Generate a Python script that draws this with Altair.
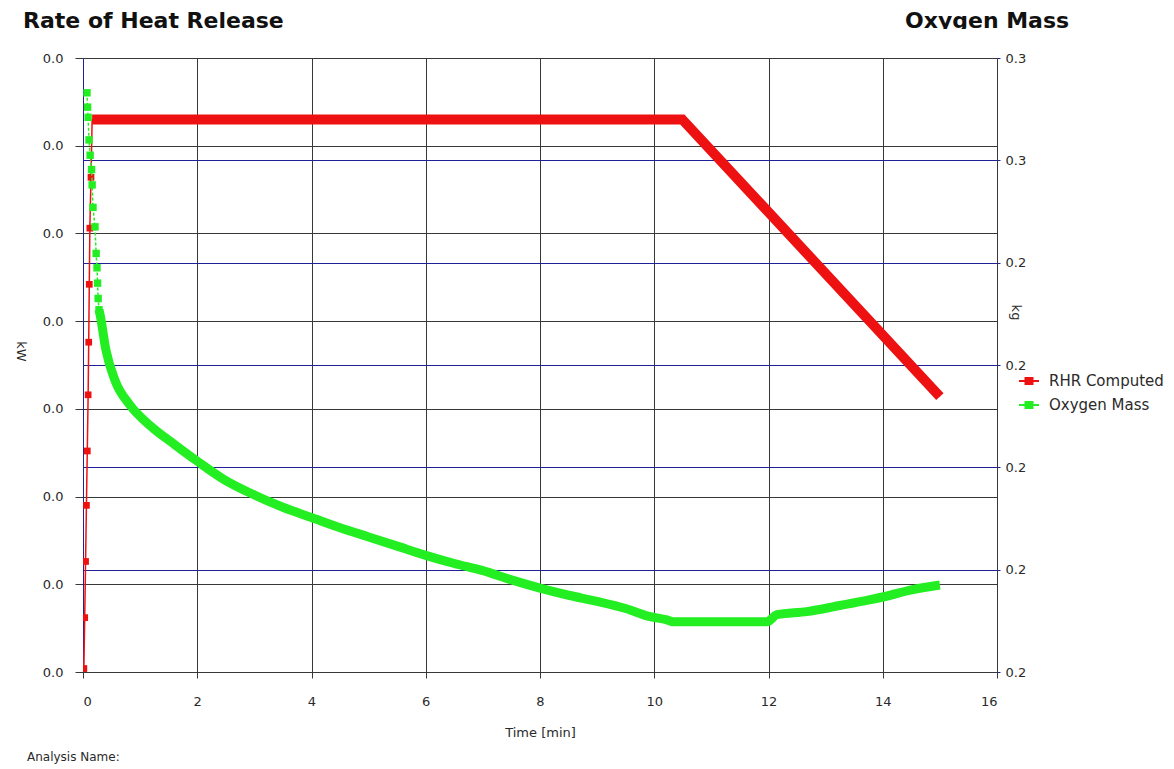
import altair as alt
import pandas as pd

# ---- data -------------------------------------------------------------
# Rate of heat release (left axis, kW)
rhr_time = [0.0, 0.015, 0.03, 0.045, 0.06, 0.075, 0.09, 0.10, 0.11, 0.12,
            0.14, 0.16, 10.49, 15.0]
rhr_kw = [0.0, 0.0002, 0.0031, 0.0063, 0.0095, 0.0126, 0.0158, 0.0188,
          0.0221, 0.0253, 0.0282, 0.0315, 0.0315, 0.0157]

# Oxygen mass (right axis, kg)
o2_time = [0.07, 0.08, 0.09, 0.105, 0.125, 0.15, 0.16, 0.175, 0.21, 0.23,
           0.245, 0.255, 0.265, 0.28, 0.30, 0.40, 0.56, 0.82, 1.17, 1.61,
           2.0, 2.5, 3.0, 3.5, 4.0, 4.5, 5.0, 5.5, 6.0, 6.5, 7.0, 7.5,
           8.0, 8.5, 9.0, 9.5, 9.93, 10.22, 10.33, 11.97, 12.15, 12.67,
           13.25, 13.72, 14.13, 14.48, 15.0]
o2_kg = [0.2566, 0.2552, 0.2542, 0.2520, 0.2505, 0.2491, 0.2476, 0.2454,
         0.2435, 0.2409, 0.2395, 0.2380, 0.2365, 0.2354, 0.2349, 0.2315,
         0.2285, 0.2261, 0.2241, 0.2222, 0.2206, 0.2187, 0.2173, 0.2161,
         0.2151, 0.2141, 0.2132, 0.2123, 0.2114, 0.2106, 0.2099, 0.2090,
         0.2082, 0.2075, 0.2069, 0.2062, 0.2054, 0.2051, 0.2049, 0.2049,
         0.2056, 0.2059, 0.2065, 0.2070, 0.2075, 0.2080, 0.2085]

series_names = ["RHR Computed", "Oxygen Mass"]
x_ticks = list(range(0, 17, 2))
kw_ticks = [0.0, 0.005, 0.010, 0.015, 0.020, 0.025, 0.030, 0.035]
kg_ticks = [0.20, 0.21, 0.22, 0.23, 0.24, 0.25, 0.26]

RED = "#ee1111"
GREEN = "#22ee22"
BLUE_GRID = "#20209a"
DARK_GRID = "#383838"
TEXT = "#2a2a2a"
FONT = "DejaVu Sans"

rhr = pd.DataFrame({"t": rhr_time, "v": rhr_kw, "s": series_names[0]})
o2 = pd.DataFrame({"t": o2_time, "v": o2_kg, "s": series_names[1]})

# ---- shared encodings -------------------------------------------------
x_enc = alt.X(
    "t:Q",
    scale=alt.Scale(domain=[0, 16], nice=False, zero=False),
    axis=alt.Axis(
        values=x_ticks, format="d", title="Time [min]",
        grid=True,
        gridColor={"condition": {"test": "datum.value === 0", "value": BLUE_GRID},
                   "value": DARK_GRID},
        domainColor=DARK_GRID, tickColor=DARK_GRID, tickSize=6,
        labelPadding=17, labelFontSize=13, labelColor=TEXT,
        titleFontSize=13, titleFontWeight="normal", titleColor=TEXT,
        titleY=60, titleBaseline="middle",
    ),
)

legend_symbol = "M-1,0L1,0M-0.35,-0.3L0.35,-0.3L0.35,0.3L-0.35,0.3Z"
color_enc = alt.Color(
    "s:N",
    scale=alt.Scale(domain=series_names, range=[RED, GREEN]),
    legend=alt.Legend(
        title=None, orient="none", legendX=935, legendY=312,
        symbolType=legend_symbol, symbolSize=400, symbolStrokeWidth=2,
        symbolOpacity=1,
        labelFontSize=15, labelColor=TEXT, labelFont=FONT,
        labelOffset=9, rowPadding=5, padding=0,
    ),
)

y_kw = alt.Y(
    "v:Q",
    scale=alt.Scale(domain=[0, 0.035], nice=False, zero=False),
    axis=alt.Axis(
        values=kw_ticks, format=".1f", title="kW", titleAngle=90,
        titleX=-63, titleY=293, titleAlign="center", titleBaseline="middle",
        titleFontSize=13, titleFontWeight="normal", titleColor=TEXT,
        grid=True, gridColor=DARK_GRID, domainColor=BLUE_GRID,
        tickColor=DARK_GRID, tickSize=8, labelPadding=12,
        labelFontSize=13, labelColor=TEXT,
    ),
)

y_kg = alt.Y(
    "v:Q",
    scale=alt.Scale(domain=[0.20, 0.26], nice=False, zero=False),
    axis=alt.Axis(
        orient="right", values=kg_ticks, format=".1f", title="kg",
        titleAngle=90, titleX=18, titleY=254, titleAlign="center",
        titleBaseline="middle", titleFontSize=13, titleFontWeight="normal",
        titleColor=TEXT,
        grid=True, gridColor=BLUE_GRID,
        # the frame edges keep the dark colour of the left-axis grid
        gridOpacity={"condition": {"test": "datum.value < 0.205 || datum.value > 0.255",
                                   "value": 0}, "value": 1},
        domainColor=DARK_GRID,
        tickColor=BLUE_GRID, tickSize=3, labelPadding=5,
        labelFontSize=13, labelColor=TEXT,
    ),
)

# ---- heat release series ---------------------------------------------
rhr_base = alt.Chart(rhr)
rhr_pts = rhr_base.transform_filter("datum.t < 0.16").mark_point(
    shape="square", filled=True, size=45, opacity=1, clip=True
).encode(x=x_enc, y=y_kw, color=color_enc)
rhr_thin = rhr_base.mark_line(strokeWidth=1.5, clip=True).encode(
    x=x_enc, y=y_kw, color=color_enc)
rhr_thick = rhr_base.transform_filter("datum.t >= 0.16").mark_line(
    strokeWidth=10, strokeJoin="miter", clip=True
).encode(x=x_enc, y=y_kw, color=color_enc)
rhr_layer = alt.layer(rhr_pts, rhr_thin, rhr_thick)

# ---- oxygen mass series ----------------------------------------------
o2_base = alt.Chart(o2)
o2_thin = o2_base.transform_filter("datum.t <= 0.28").mark_line(
    strokeWidth=1.5, strokeDash=[3, 2], clip=True
).encode(x=x_enc, y=y_kg, color=color_enc)
o2_pts = o2_base.transform_filter("datum.t <= 0.28").mark_point(
    shape="square", filled=True, size=55, opacity=1, clip=True
).encode(x=x_enc, y=y_kg, color=color_enc)
o2_thick = o2_base.transform_filter("datum.t >= 0.28").mark_line(
    strokeWidth=9, interpolate="monotone", clip=True
).encode(x=x_enc, y=y_kg, color=color_enc)
o2_layer = alt.layer(o2_pts, o2_thin, o2_thick)

# ---- headings and footer ---------------------------------------------
one = pd.DataFrame({"k": [0]})
head_left = alt.Chart(one).mark_text(
    text="Rate of Heat Release", font=FONT, fontSize=22, fontWeight="bold",
    align="left", baseline="alphabetic", color="#111111"
).encode(x=alt.value(-60), y=alt.value(-30))
head_right = alt.Chart(one).mark_text(
    text="Oxygen Mass", font=FONT, fontSize=22, fontWeight="bold",
    align="left", baseline="alphabetic", color="#111111"
).encode(x=alt.value(822), y=alt.value(-30))
# the right heading sits in a band that cuts off its descenders
head_mask = alt.Chart(one).mark_rect(color="white").encode(
    x=alt.value(815), x2=alt.value(1010), y=alt.value(-29), y2=alt.value(-18))
footer = alt.Chart(one).mark_text(
    text="Analysis Name:", font=FONT, fontSize=12, align="left",
    baseline="middle", color=TEXT
).encode(x=alt.value(-56), y=alt.value(699))

plot = alt.layer(rhr_layer, o2_layer).resolve_scale(y="independent")

chart = alt.layer(plot, head_left, head_right, head_mask, footer).properties(
    width=914, height=614,
    autosize=alt.AutoSizeParams(type="none"),
    padding={"left": 83, "top": 58, "right": 177, "bottom": 97},
    background="white",
).configure_view(stroke="transparent").configure(font=FONT)

chart.save("out.html", embed_options={"renderer": "svg", "actions": False})
